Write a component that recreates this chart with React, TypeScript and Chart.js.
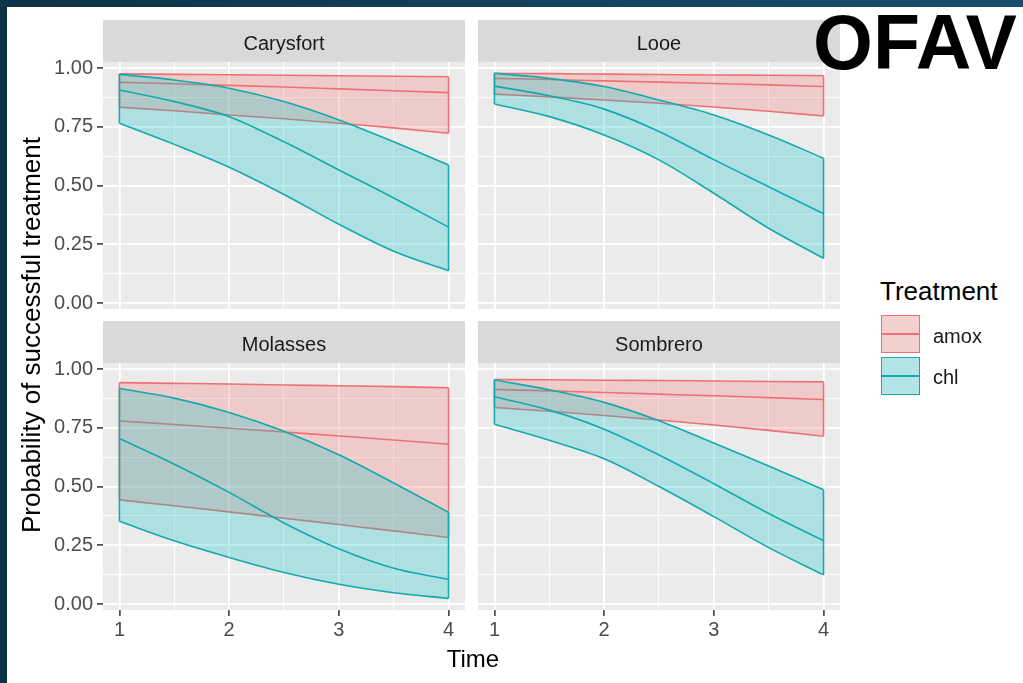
import React, { useEffect, useRef } from "react";
import { Chart, registerables } from "chart.js";
Chart.register(...registerables);

// ---------------- data ----------------
const times = [1, 1.5, 2, 2.5, 3, 3.5, 4];
const siteNames = ["Carysfort", "Looe", "Molasses", "Sombrero"];
const treatmentNames = ["amox", "chl"];
const xGridValues = [1, 1.5, 2, 2.5, 3, 3.5, 4];
const xMajorTicks = [1, 2, 3, 4];
const xTickLabels = ["1", "2", "3", "4"];
const yGridValues = [0, 0.125, 0.25, 0.375, 0.5, 0.625, 0.75, 0.875, 1];
const yMajorTicks = [0, 0.25, 0.5, 0.75, 1];
const yTickLabels = ["0.00", "0.25", "0.50", "0.75", "1.00"];

const carysfortAmoxUpper = [0.975, 0.973, 0.971, 0.969, 0.967, 0.965, 0.963];
const carysfortAmoxMid = [0.939, 0.933, 0.926, 0.919, 0.911, 0.903, 0.895];
const carysfortAmoxLower = [0.833, 0.818, 0.8, 0.784, 0.765, 0.745, 0.722];
const carysfortChlUpper = [0.973, 0.949, 0.914, 0.857, 0.779, 0.686, 0.587];
const carysfortChlMid = [0.906, 0.857, 0.793, 0.686, 0.566, 0.447, 0.323];
const carysfortChlLower = [0.765, 0.675, 0.578, 0.462, 0.335, 0.22, 0.137];

const looeAmoxUpper = [0.977, 0.976, 0.974, 0.972, 0.97, 0.969, 0.967];
const looeAmoxMid = [0.956, 0.951, 0.945, 0.94, 0.934, 0.928, 0.921];
const looeAmoxLower = [0.889, 0.877, 0.864, 0.85, 0.834, 0.816, 0.796];
const looeChlUpper = [0.977, 0.956, 0.921, 0.864, 0.8, 0.715, 0.616];
const looeChlMid = [0.923, 0.882, 0.825, 0.73, 0.61, 0.495, 0.38];
const looeChlLower = [0.847, 0.793, 0.715, 0.609, 0.467, 0.318, 0.19];

const molassesAmoxUpper = [0.942, 0.939, 0.936, 0.932, 0.929, 0.925, 0.92];
const molassesAmoxMid = [0.779, 0.764, 0.748, 0.732, 0.715, 0.698, 0.68];
const molassesAmoxLower = [0.443, 0.418, 0.392, 0.365, 0.338, 0.311, 0.283];
const molassesChlUpper = [0.917, 0.876, 0.815, 0.735, 0.635, 0.515, 0.39];
const molassesChlMid = [0.704, 0.595, 0.475, 0.345, 0.235, 0.152, 0.105];
const molassesChlLower = [0.352, 0.269, 0.198, 0.134, 0.084, 0.048, 0.024];

const sombreroAmoxUpper = [0.955, 0.954, 0.952, 0.951, 0.949, 0.947, 0.945];
const sombreroAmoxMid = [0.913, 0.907, 0.9, 0.893, 0.886, 0.878, 0.87];
const sombreroAmoxLower = [0.836, 0.82, 0.802, 0.783, 0.762, 0.739, 0.714];
const sombreroChlUpper = [0.953, 0.912, 0.858, 0.78, 0.685, 0.587, 0.486];
const sombreroChlMid = [0.882, 0.825, 0.744, 0.634, 0.512, 0.385, 0.269];
const sombreroChlLower = [0.765, 0.697, 0.618, 0.5, 0.372, 0.24, 0.124];

// [lower, mid, upper] per site & treatment
const siteTable = [
  { amox: [carysfortAmoxLower, carysfortAmoxMid, carysfortAmoxUpper], chl: [carysfortChlLower, carysfortChlMid, carysfortChlUpper] },
  { amox: [looeAmoxLower, looeAmoxMid, looeAmoxUpper], chl: [looeChlLower, looeChlMid, looeChlUpper] },
  { amox: [molassesAmoxLower, molassesAmoxMid, molassesAmoxUpper], chl: [molassesChlLower, molassesChlMid, molassesChlUpper] },
  { amox: [sombreroAmoxLower, sombreroAmoxMid, sombreroAmoxUpper], chl: [sombreroChlLower, sombreroChlMid, sombreroChlUpper] },
];

// ---------------- styles / layout ----------------
const FONT = "'Liberation Sans', Arial, Helvetica, sans-serif";
const LINE_COLORS: Record<string, string> = { amox: "#EE7075", chl: "#12AAAE" };
const FILL_COLORS: Record<string, string> = { amox: "rgba(248,118,109,0.27)", chl: "rgba(0,195,200,0.26)" };
const PANEL_W = 362;
const PANEL_H = 247;
const COL_X = [103, 478];
const ROW_Y = [62, 363];
const Y_AXIS_W = 63;
const X_AXIS_H = 45;
const PAD = 20;
const STRIP_H = 42;

const panelBg = {
  id: "panelBg",
  beforeDraw(chart: any) {
    const { ctx, chartArea: a } = chart;
    ctx.save();
    ctx.fillStyle = "#ebebeb";
    ctx.fillRect(a.left, a.top, a.right - a.left, a.bottom - a.top);
    ctx.restore();
  },
};

function panelGeom(col: number, row: number) {
  const left = col === 0 ? COL_X[0] - Y_AXIS_W : COL_X[1] - PAD;
  const top = ROW_Y[row] - PAD;
  const width = (col === 0 ? Y_AXIS_W : PAD) + PANEL_W + PAD;
  const height = PAD + PANEL_H + (row === 1 ? X_AXIS_H : PAD);
  return { left, top, width, height };
}

function buildChart(canvas: HTMLCanvasElement, siteIdx: number, col: number, row: number) {
  const d: any = siteTable[siteIdx];
  const pts = (arr: number[]) => arr.map((y, i) => ({ x: times[i], y }));
  const edge = (lo: number[], up: number[], i: number) => [
    { x: times[i], y: lo[i] },
    { x: times[i], y: up[i] },
  ];
  const datasets: any[] = [];
  treatmentNames.forEach((t, ti) => {
    const [lo, mid, up] = d[t];
    const base = datasets.length;
    const order = ti === 0 ? 2 : 1;
    const common = {
      borderColor: LINE_COLORS[t],
      borderWidth: 1.6,
      pointRadius: 0,
      fill: false,
      order,
      cubicInterpolationMode: "monotone",
    };
    const straight = { ...common, cubicInterpolationMode: "default", tension: 0 };
    datasets.push({ ...common, label: t + " mid", data: pts(mid) });
    datasets.push({ ...common, label: t + " lower", data: pts(lo) });
    datasets.push({ ...straight, label: t + " edge1", data: edge(lo, up, 0) });
    datasets.push({ ...straight, label: t + " edge4", data: edge(lo, up, times.length - 1) });
    datasets.push({
      ...common,
      label: t + " upper",
      data: pts(up),
      backgroundColor: FILL_COLORS[t],
      fill: { target: base + 1, above: FILL_COLORS[t], below: FILL_COLORS[t] },
    });
  });

  const bottom = row === 1;
  const leftCol = col === 0;
  const isMajorX = (c: any) => c && c.tick && xMajorTicks.includes(c.tick.value);
  const isMajorY = (c: any) => c && c.tick && yMajorTicks.some((v) => Math.abs(v - c.tick.value) < 1e-9);

  return new Chart(canvas, {
    type: "line",
    data: { datasets },
    plugins: [panelBg],
    options: {
      animation: false,
      responsive: false,
      maintainAspectRatio: false,
      events: [],
      layout: {
        padding: { left: leftCol ? 0 : PAD, right: PAD, top: PAD, bottom: bottom ? 0 : PAD },
      },
      plugins: {
        legend: { display: false },
        tooltip: { enabled: false },
        title: { display: false },
        filler: { propagate: false },
      },
      scales: {
        x: {
          type: "linear",
          min: 0.85,
          max: 4.15,
          afterBuildTicks: (s: any) => {
            s.ticks = xGridValues.map((v) => ({ value: v }));
          },
          afterFit: (s: any) => {
            s.height = bottom ? X_AXIS_H : 0;
          },
          ticks: {
            display: bottom,
            autoSkip: false,
            maxRotation: 0,
            minRotation: 0,
            padding: 2,
            color: "#4d4d4d",
            font: { family: FONT, size: 20 },
            callback: (v: any) => {
              const i = xMajorTicks.indexOf(Number(v));
              return i >= 0 ? xTickLabels[i] : "";
            },
          },
          grid: {
            color: "#ffffff",
            lineWidth: (c: any) => (isMajorX(c) ? 1.8 : 0.9),
            drawTicks: bottom,
            tickLength: 6,
            tickWidth: 1.5,
            tickColor: (c: any) => (isMajorX(c) ? "#333333" : "rgba(0,0,0,0)"),
          },
          border: { display: false },
        },
        y: {
          type: "linear",
          min: -0.0255,
          max: 1.0255,
          afterBuildTicks: (s: any) => {
            s.ticks = yGridValues.map((v) => ({ value: v }));
          },
          afterFit: (s: any) => {
            s.width = leftCol ? Y_AXIS_W : 0;
          },
          ticks: {
            display: leftCol,
            autoSkip: false,
            padding: 4,
            color: "#4d4d4d",
            font: { family: FONT, size: 20 },
            callback: (v: any) => {
              const i = yMajorTicks.findIndex((m) => Math.abs(m - Number(v)) < 1e-9);
              return i >= 0 ? yTickLabels[i] : "";
            },
          },
          grid: {
            color: "#ffffff",
            lineWidth: (c: any) => (isMajorY(c) ? 1.8 : 0.9),
            drawTicks: leftCol,
            tickLength: 6,
            tickWidth: 1.5,
            tickColor: (c: any) => (isMajorY(c) ? "#333333" : "rgba(0,0,0,0)"),
          },
          border: { display: false },
        },
      },
    } as any,
  });
}

const PANELS = [
  { site: 0, col: 0, row: 0 },
  { site: 1, col: 1, row: 0 },
  { site: 2, col: 0, row: 1 },
  { site: 3, col: 1, row: 1 },
];

export default function App() {
  const refs = [useRef<HTMLCanvasElement>(null), useRef<HTMLCanvasElement>(null), useRef<HTMLCanvasElement>(null), useRef<HTMLCanvasElement>(null)];

  useEffect(() => {
    const charts = PANELS.map((p, i) => buildChart(refs[i].current as HTMLCanvasElement, p.site, p.col, p.row));
    return () => charts.forEach((c) => c.destroy());
  }, []);

  const abs = (s: any) => ({ position: "absolute", ...s } as React.CSSProperties);

  return (
    <div style={{ position: "fixed", left: 0, top: 0, width: 1023, height: 683, background: "#ffffff", overflow: "hidden", fontFamily: FONT }}>
      <div style={abs({ left: 0, top: 0, width: 1023, height: 7, background: "linear-gradient(90deg, #0e3248, #174f6c)" })} />
      <div style={abs({ left: 0, top: 0, width: 7, height: 683, background: "#0e3248" })} />

      {PANELS.map((p, i) => {
        const g = panelGeom(p.col, p.row);
        return (
          <canvas
            key={"c" + i}
            ref={refs[i]}
            width={g.width}
            height={g.height}
            style={abs({ left: g.left, top: g.top, width: g.width, height: g.height, display: "block" })}
          />
        );
      })}

      {PANELS.map((p, i) => (
        <div
          key={"s" + i}
          style={abs({
            left: COL_X[p.col],
            top: ROW_Y[p.row] - STRIP_H,
            width: PANEL_W,
            height: STRIP_H,
            background: "#d9d9d9",
          })}
        >
          <div style={abs({ left: 0, top: 12.5, width: PANEL_W, textAlign: "center", fontSize: 20, lineHeight: "20px", color: "#1a1a1a", whiteSpace: "nowrap" })}>
            {siteNames[p.site]}
          </div>
        </div>
      ))}

      <div style={abs({ left: 31 - 250, top: 335 - 13, width: 500, height: 26, lineHeight: "26px", fontSize: 26, textAlign: "center", color: "#000", transform: "rotate(-90deg)", whiteSpace: "nowrap" })}>
        Probability of successful treatment
      </div>
      <div style={abs({ left: 373, top: 647, width: 200, textAlign: "center", fontSize: 24, lineHeight: "24px", color: "#000" })}>Time</div>

      <div style={abs({ left: 880, top: 278, fontSize: 26, lineHeight: "26px", color: "#000", whiteSpace: "nowrap" })}>Treatment</div>
      {treatmentNames.map((t, i) => (
        <React.Fragment key={"l" + t}>
          <div style={abs({ left: 881, top: 315 + i * 42, width: 39, height: 38, background: "#f2f2f2" })}>
            <div style={abs({ left: 0, top: 0, width: 39, height: 38, boxSizing: "border-box", background: FILL_COLORS[t], border: "1.6px solid " + LINE_COLORS[t] })} />
            <div style={abs({ left: 0, top: 18.2, width: 39, height: 1.6, background: LINE_COLORS[t] })} />
          </div>
          <div style={abs({ left: 933, top: (i === 0 ? 326 : 367), fontSize: 20, lineHeight: "20px", color: "#1a1a1a", whiteSpace: "nowrap" })}>{t}</div>
        </React.Fragment>
      ))}

      <div style={abs({ left: 813, top: 4, fontSize: 77, lineHeight: "77px", fontWeight: 700, color: "#000", whiteSpace: "nowrap" })}>OFAV</div>
    </div>
  );
}
